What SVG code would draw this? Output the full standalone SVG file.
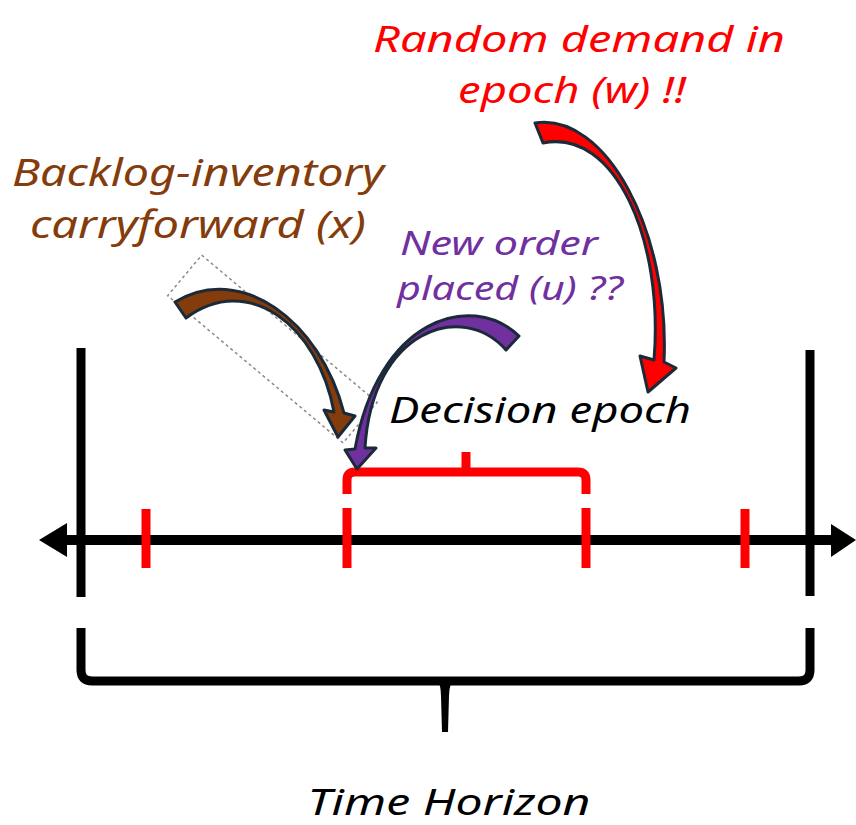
<svg xmlns="http://www.w3.org/2000/svg" width="856" height="825" viewBox="0 0 856 825">
<style>
.t{font-family:"Noto Sans","DejaVu Sans",sans-serif;font-style:italic;}
.ln{fill:none;stroke:#000;stroke-width:9;}
.rd{fill:none;stroke:#FF0000;stroke-width:9;}
.arw{stroke:#1B2A38;stroke-width:3;stroke-linejoin:round;}
</style>
<rect width="856" height="825" fill="#fff"/>
<g id="axis">
<line x1="62" y1="540" x2="834" y2="540" stroke="#000" stroke-width="10"/>
<polygon points="39,540 67,523 67,557" fill="#000"/>
<polygon points="856,540 831,524 831,557" fill="#000"/>
<line class="ln" x1="81" y1="348" x2="81" y2="597"/>
<line class="ln" x1="810" y1="350" x2="810" y2="596"/>
</g>
<g id="ticks">
<line class="rd" x1="146" y1="509" x2="146" y2="568"/>
<line class="rd" x1="347" y1="508" x2="347" y2="568"/>
<line class="rd" x1="586" y1="508" x2="586" y2="568"/>
<line class="rd" x1="745" y1="509" x2="745" y2="568"/>
</g>
<g id="decision-epoch">
<path class="rd" d="M347,494 L347,480 Q347,472 355,472 L578,472 Q586,472 586,480 L586,494"/>
<line class="rd" x1="466" y1="476" x2="466" y2="452" stroke-width="8"/>
<text class="t" x="540" y="423" font-size="36" text-anchor="middle" textLength="302" lengthAdjust="spacingAndGlyphs" fill="#000">Decision epoch</text>
</g>
<g id="time-horizon">
<path class="ln" stroke-width="10" d="M81,628 L81,670 Q81,681 92,681 L799,681 Q810,681 810,670 L810,628"/>
<path d="M436,678 L455,678 Q449,684 449,696 L448,732 L442,732 L441,696 Q441,684 436,678 Z" fill="#000"/>
<text class="t" x="449" y="815" font-size="36" text-anchor="middle" textLength="283" lengthAdjust="spacingAndGlyphs" fill="#000">Time Horizon</text>
</g>
<g id="backlog">
<text class="t" font-size="38" fill="#843C0C" text-anchor="middle" x="198" y="186" textLength="372" lengthAdjust="spacingAndGlyphs">Backlog-inventory</text>
<text class="t" font-size="38" fill="#843C0C" text-anchor="middle" x="198" y="238" textLength="336" lengthAdjust="spacingAndGlyphs">carryforward (x)</text>
</g>
<g id="new-order">
<text class="t" font-size="33" fill="#7030A0" text-anchor="middle" x="499" y="255" textLength="198" lengthAdjust="spacingAndGlyphs">New order</text>
<text class="t" font-size="33" fill="#7030A0" text-anchor="middle" x="510" y="300" textLength="226" lengthAdjust="spacingAndGlyphs">placed (u) ??</text>
</g>
<g id="random-demand">
<text class="t" font-size="37" fill="#FF0000" text-anchor="middle" x="579" y="52" textLength="412" lengthAdjust="spacingAndGlyphs">Random demand in</text>
<text class="t" font-size="37" fill="#FF0000" text-anchor="middle" x="572" y="103" textLength="228" lengthAdjust="spacingAndGlyphs">epoch (w) !!</text>
</g>
<g id="connectors">
<rect x="-114.5" y="-26.5" width="229" height="53" transform="translate(272.4,349) rotate(40)" fill="none" stroke="#8a8a8a" stroke-width="1.5" stroke-dasharray="3,3"/>
<path class="arw" fill="#843C0C" d="M175,302 C240,262 320,320 344,413 L355,416 L338,437 L324,410 L334,412 C318,325 248,272 186,318 Z"/>
<path class="arw" fill="#7030A0" d="M519,336 C470,290 378,320 355,449 L345,450 L357,469 L376,448 L365,448 C372,330 462,300 506,350 Z"/>
<path class="arw" fill="#FF0000" d="M535,123 C605,112 670,230 664,362 L676,368 L648,392 L640,356 L654,360 C664,240 615,128 543,143 Z"/>
</g>
</svg>
